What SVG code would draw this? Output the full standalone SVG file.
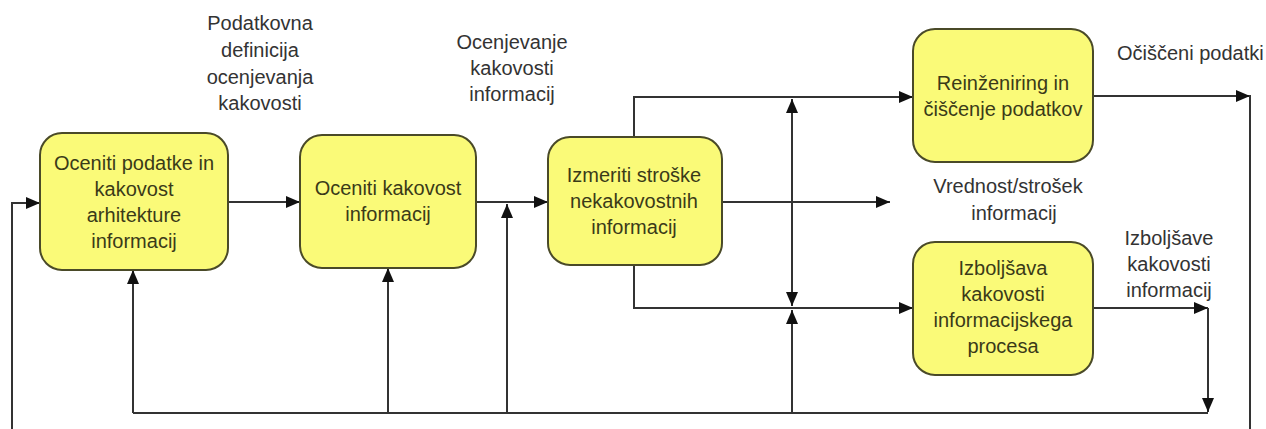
<svg xmlns="http://www.w3.org/2000/svg" width="1266" height="429" viewBox="0 0 1266 429">
  <style>
    .box { fill: #fafa78; stroke: #4a4a28; stroke-width: 2; }
    .btxt { font-family: "Liberation Sans", Arial, sans-serif; font-size: 20px; fill: #3a3a18; text-anchor: middle; }
    .lbl { font-family: "Liberation Sans", Arial, sans-serif; font-size: 20px; fill: #333333; text-anchor: middle; }
    .ln { fill: none; stroke: #333333; stroke-width: 2; }
    .arr { marker-end: url(#head); }
  </style>
  <defs>
    <marker id="head" markerUnits="userSpaceOnUse" markerWidth="14" markerHeight="12" refX="14" refY="6" orient="auto">
      <path d="M0,0 L14,6 L0,12 z" fill="#111111"/>
    </marker>
  </defs>

  <rect width="1266" height="429" fill="#ffffff"/>

  <!-- connectors -->
  <g id="connectors">
    <path class="ln arr" d="M12,429 V203 H40"/>
    <path class="ln arr" d="M228,202 H300"/>
    <path class="ln arr" d="M476,202 H548"/>
    <path class="ln arr" d="M507,413 V204"/>
    <path class="ln arr" d="M722,202 H890"/>
    <path class="ln arr" d="M634,137 V97 H913"/>
    <path class="ln arr" d="M634,265 V308 H913"/>
    <path class="ln arr" d="M792,200 V99"/>
    <path class="ln arr" d="M792,200 V306"/>
    <path class="ln arr" d="M792,413 V310"/>
    <path class="ln arr" d="M1093,96 H1250"/>
    <path class="ln" d="M1250,95 V429"/>
    <path class="ln arr" d="M1093,308 H1208"/>
    <path class="ln arr" d="M1208,308 V412"/>
    <path class="ln" d="M1208,413 H133"/>
    <path class="ln arr" d="M133,413 V270"/>
    <path class="ln arr" d="M388,413 V268"/>
  </g>

  <!-- process nodes -->
  <g id="node-oceniti-podatke">
    <rect class="box" x="40" y="133" width="188" height="137" rx="22"/>
    <text class="btxt" x="134" y="170">Oceniti podatke in</text>
    <text class="btxt" x="134" y="196">kakovost</text>
    <text class="btxt" x="134" y="222">arhitekture</text>
    <text class="btxt" x="134" y="248">informacij</text>
  </g>
  <g id="node-oceniti-kakovost">
    <rect class="box" x="300" y="135" width="176" height="133" rx="22"/>
    <text class="btxt" x="388" y="195">Oceniti kakovost</text>
    <text class="btxt" x="388" y="221">informacij</text>
  </g>
  <g id="node-izmeriti">
    <rect class="box" x="548" y="137" width="174" height="128" rx="22"/>
    <text class="btxt" x="634" y="182">Izmeriti stroške</text>
    <text class="btxt" x="634" y="208">nekakovostnih</text>
    <text class="btxt" x="634" y="234">informacij</text>
  </g>
  <g id="node-reinzeniring">
    <rect class="box" x="913" y="29" width="180" height="133" rx="22"/>
    <text class="btxt" x="1003" y="90">Reinženiring in</text>
    <text class="btxt" x="1003" y="116">čiščenje podatkov</text>
  </g>
  <g id="node-izboljsava">
    <rect class="box" x="913" y="242" width="180" height="133" rx="22"/>
    <text class="btxt" x="1003" y="275">Izboljšava</text>
    <text class="btxt" x="1003" y="301">kakovosti</text>
    <text class="btxt" x="1003" y="327">informacijskega</text>
    <text class="btxt" x="1003" y="353">procesa</text>
  </g>

  <!-- flow labels -->
  <g id="label-podatkovna">
    <text class="lbl" x="260" y="30">Podatkovna</text>
    <text class="lbl" x="260" y="57">definicija</text>
    <text class="lbl" x="260" y="84">ocenjevanja</text>
    <text class="lbl" x="260" y="110">kakovosti</text>
  </g>
  <g id="label-ocenjevanje">
    <text class="lbl" x="512" y="49">Ocenjevanje</text>
    <text class="lbl" x="512" y="75">kakovosti</text>
    <text class="lbl" x="512" y="101">informacij</text>
  </g>
  <g id="label-ociscenii">
    <text class="lbl" x="1117" y="60" style="text-anchor:start">Očiščeni podatki</text>
  </g>
  <g id="label-vrednost">
    <text class="lbl" x="1008" y="193">Vrednost/strošek</text>
    <text class="lbl" x="1014" y="220">informacij</text>
  </g>
  <g id="label-izboljsave">
    <text class="lbl" x="1169" y="245">Izboljšave</text>
    <text class="lbl" x="1169" y="271">kakovosti</text>
    <text class="lbl" x="1169" y="297">informacij</text>
  </g>
</svg>
